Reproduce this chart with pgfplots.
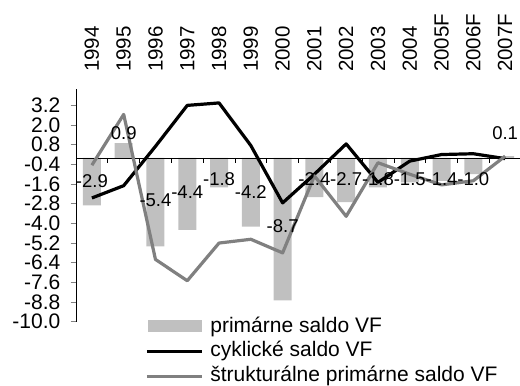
\documentclass[border=0pt]{standalone}
\usepackage{fontspec}
\setmainfont{Liberation Sans}
\usepackage{pgfplots}
\pgfplotsset{compat=1.18}

\definecolor{barGrey}{RGB}{192,192,192}
\definecolor{lineGrey}{RGB}{128,128,128}
\newcommand{\fsTick}{\fontsize{21bp}{25bp}\selectfont}
\newcommand{\fsYear}{\fontsize{20.5bp}{24bp}\selectfont}
\newcommand{\fsLab}{\fontsize{18.5bp}{22bp}\selectfont}

\begin{document}
\begin{tikzpicture}[x=1bp,y=1bp]
\begin{axis}[
  at={(76bp,63.3bp)}, anchor=south west,
  scale only axis, width=445bp, height=232.7bp,
  xmin=-0.5, xmax=13.5, ymin=-10, ymax=4.2,
  axis x line=none, axis y line*=left,
  ytick={-10,-8.8,-7.6,-6.4,-5.2,-4,-2.8,-1.6,-0.4,0.8,2,3.2},
  tick align=outside, major tick length=5.5bp,
  y axis line style={line width=0.6bp},
  ytick style={line width=0.6bp},
  yticklabel style={font=\fsTick, inner xsep=0pt, xshift=-10bp},
  /pgf/number format/fixed, /pgf/number format/fixed zerofill,
  /pgf/number format/precision=1, /pgf/number format/assume math mode=true,
  clip=false,
  legend cell align=left,
  legend style={at={(axis description cs:0.155,0.03)}, anchor=north west,
    draw=none, fill=none, inner sep=0pt, font=\fsTick,
    nodes={inner xsep=0pt, inner ysep=2bp, text height=15.5bp, text depth=5bp},
    column sep=7bp, row sep=0pt},
]
% primary balance (bars)
\addplot[ybar, bar width=18bp, fill=barGrey, draw=none,
  legend image code/.code={\fill[barGrey] (1.5bp,-5bp) rectangle (55.5bp,7bp);}]
  coordinates {(0,-2.9)(1,0.9)(2,-5.4)(3,-4.4)(4,-1.8)(5,-4.2)(6,-8.7)
               (7,-2.4)(8,-2.7)(9,-1.8)(10,-1.5)(11,-1.4)(12,-1.0)(13,0.1)};
\addlegendentry{primárne saldo VF}

% value labels of the bars
\addplot[forget plot, draw=none, mark=none, point meta=explicit symbolic,
  nodes near coords={\pgfplotspointmeta}, nodes near coords align=center,
  every node near coord/.style={anchor=center, font=\fsLab, inner sep=0pt}]
  coordinates {(0,-1.42)[-2.9] (1,1.5)[0.9] (2,-2.57)[-5.4] (3,-2.07)[-4.4]
               (4,-1.29)[-1.8] (5,-2.07)[-4.2] (6,-4.16)[-8.7] (7,-1.31)[-2.4]
               (8,-1.31)[-2.7] (9,-1.31)[-1.8] (10,-1.31)[-1.5] (11,-1.31)[-1.4]
               (12,-1.31)[-1.0] (13,1.5)[0.1]};

% zero line with category separators
\draw[line width=0.6bp] (axis cs:-0.5,0) -- (axis cs:13.5,0);
\pgfplotsinvokeforeach{0.5,1.5,2.5,3.5,4.5,5.5,6.5,7.5,8.5,9.5,10.5,11.5,12.5}{
  \draw[line width=0.6bp] (axis cs:#1,0) -- ([yshift=-5.5bp]axis cs:#1,0);
}

% cyclical balance
\addplot[black, line width=3.2bp, line join=round, mark=none,
  legend image code/.code={\draw[black, line width=3.2bp] (0bp,0bp) -- (55bp,0bp);}]
  coordinates {(0,-2.45)(1,-1.7)(2,0.7)(3,3.2)(4,3.35)(5,0.75)(6,-2.75)
               (7,-1.0)(8,0.85)(9,-1.5)(10,-0.2)(11,0.2)(12,0.25)(13,-0.05)};
\addlegendentry{cyklické saldo VF}

% structural primary balance
\addplot[lineGrey, line width=3.2bp, line join=round, mark=none,
  legend image code/.code={\draw[lineGrey, line width=3.2bp] (0bp,0bp) -- (55bp,0bp);}]
  coordinates {(0,-0.45)(1,2.65)(2,-6.2)(3,-7.5)(4,-5.2)(5,-4.97)(6,-5.8)
               (7,-1.1)(8,-3.57)(9,-0.3)(10,-1.0)(11,-1.65)(12,-1.4)(13,0.1)};
\addlegendentry{štrukturálne primárne saldo VF}

% year labels above the plot
\node[rotate=90, anchor=west, inner sep=0pt, font=\fsYear] at ([yshift=17bp]axis cs:0,4.2) {1994};
\node[rotate=90, anchor=west, inner sep=0pt, font=\fsYear] at ([yshift=17bp]axis cs:1,4.2) {1995};
\node[rotate=90, anchor=west, inner sep=0pt, font=\fsYear] at ([yshift=17bp]axis cs:2,4.2) {1996};
\node[rotate=90, anchor=west, inner sep=0pt, font=\fsYear] at ([yshift=17bp]axis cs:3,4.2) {1997};
\node[rotate=90, anchor=west, inner sep=0pt, font=\fsYear] at ([yshift=17bp]axis cs:4,4.2) {1998};
\node[rotate=90, anchor=west, inner sep=0pt, font=\fsYear] at ([yshift=17bp]axis cs:5,4.2) {1999};
\node[rotate=90, anchor=west, inner sep=0pt, font=\fsYear] at ([yshift=17bp]axis cs:6,4.2) {2000};
\node[rotate=90, anchor=west, inner sep=0pt, font=\fsYear] at ([yshift=17bp]axis cs:7,4.2) {2001};
\node[rotate=90, anchor=west, inner sep=0pt, font=\fsYear] at ([yshift=17bp]axis cs:8,4.2) {2002};
\node[rotate=90, anchor=west, inner sep=0pt, font=\fsYear] at ([yshift=17bp]axis cs:9,4.2) {2003};
\node[rotate=90, anchor=west, inner sep=0pt, font=\fsYear] at ([yshift=17bp]axis cs:10,4.2) {2004};
\node[rotate=90, anchor=west, inner sep=0pt, font=\fsYear] at ([yshift=17bp]axis cs:11,4.2) {2005F};
\node[rotate=90, anchor=west, inner sep=0pt, font=\fsYear] at ([yshift=17bp]axis cs:12,4.2) {2006F};
\node[rotate=90, anchor=west, inner sep=0pt, font=\fsYear] at ([yshift=17bp]axis cs:13,4.2) {2007F};
\end{axis}
\pgfresetboundingbox
\path[use as bounding box] (0,0) rectangle (520,385);
\end{tikzpicture}
\end{document}
